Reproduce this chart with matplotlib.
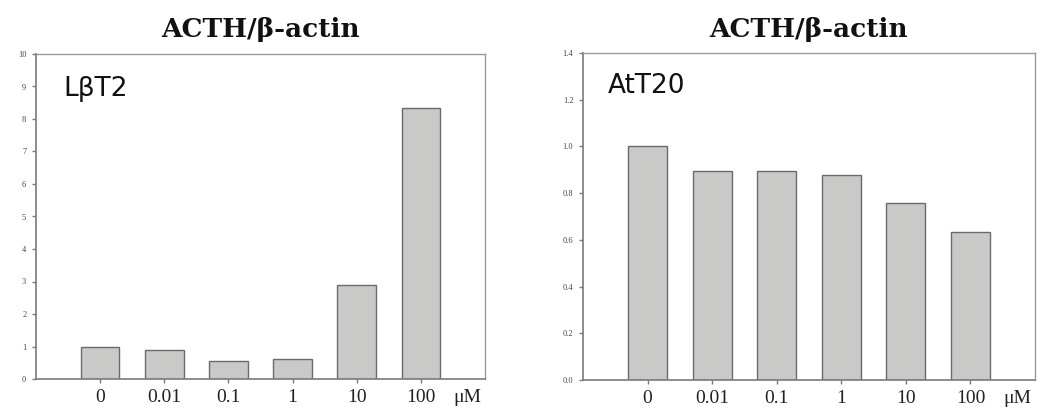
import matplotlib
matplotlib.use("Agg")
import matplotlib.pyplot as plt
import numpy as np

categories = ["0", "0.01", "0.1", "1", "10", "100"]
lbt2_values = [1.0, 0.90, 0.56, 0.63, 2.90, 8.34]
att20_values = [1.0, 0.893, 0.893, 0.877, 0.758, 0.635]
title_text = "ACTH/\u03b2-actin"
panel_labels = ["L\u03b2T2", "AtT20"]
unit_label = "\u03bcM"
lbt2_yticks = list(range(0, 11))
att20_yticks = [0.0, 0.2, 0.4, 0.6, 0.8, 1.0, 1.2, 1.4]

fig = plt.figure(figsize=(10.41, 4.11), dpi=100)
ax1 = fig.add_axes([36/1041, 32/411, 449/1041, 325/411])
ax2 = fig.add_axes([583/1041, 31/411, 452/1041, 327/411])

bar_face = "#c9c9c7"
bar_edge = "#6a6a6a"
spine_col = "#7a7a7a"

def style(ax, values, yticks, ymax, fmt, label, label_pos, title_y):
    x = np.arange(len(values))
    ax.bar(x, values, width=0.6, color=bar_face, edgecolor=bar_edge, linewidth=1.0)
    ax.set_xlim(-1.0, 6.0)
    ax.set_ylim(0, ymax)
    ax.set_xticks(x)
    ax.set_xticklabels(categories, family="Liberation Serif", fontsize=14, color="#222222")
    ax.set_yticks(yticks)
    ax.set_yticklabels([fmt.format(v) for v in yticks], family="Liberation Serif",
                       fontsize=6, color="#444444")
    ax.tick_params(axis="x", length=3, width=1, color=spine_col, pad=4)
    ax.tick_params(axis="y", length=3, width=1, color=spine_col, pad=4)
    for s in ["left", "bottom"]:
        ax.spines[s].set_color(spine_col)
        ax.spines[s].set_linewidth(1.2)
    for s in ["top", "right"]:
        ax.spines[s].set_color("#9a9a9a")
        ax.spines[s].set_linewidth(1.0)
    ax.text(0.5, title_y, title_text, transform=ax.transAxes, family="DejaVu Serif",
            fontweight="bold", fontsize=19, ha="center", va="baseline", color="#111111")
    ax.text(label_pos[0], label_pos[1], label, transform=ax.transAxes, family="DejaVu Sans",
            fontsize=19, va="baseline", ha="left", color="#111111")
    ax.annotate(unit_label, xy=(5.72, 0), xycoords=("data", "axes fraction"),
                xytext=(0, -7), textcoords="offset points", ha="center", va="top",
                family="Liberation Serif", fontsize=14, color="#222222")

style(ax1, lbt2_values, lbt2_yticks, 10, "{:d}", panel_labels[0], (0.062, 0.871), 1 + 17/325)
style(ax2, att20_values, att20_yticks, 1.4, "{:.1f}", panel_labels[1], (0.055, 0.878), 1 + 16/327)

fig.savefig("out.png", dpi=100)
